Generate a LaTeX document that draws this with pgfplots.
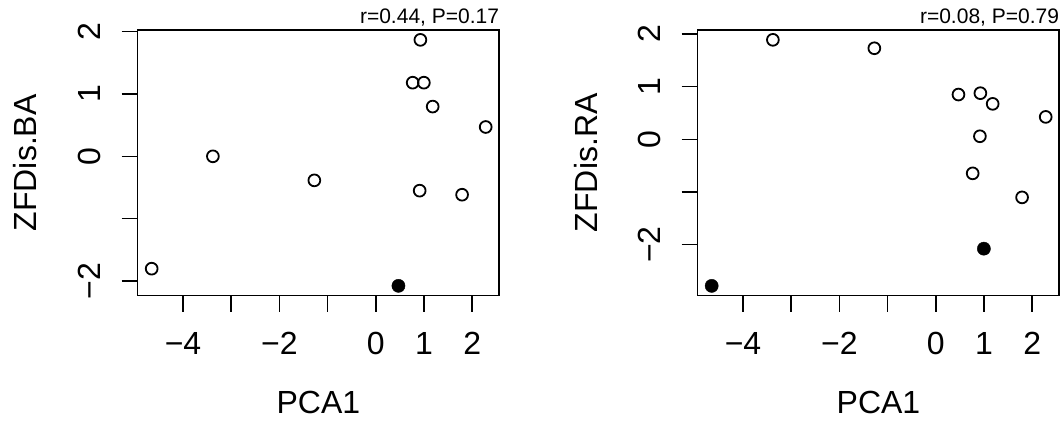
\documentclass[border=0pt]{standalone}
\usepackage{fontspec}
\setmainfont{Liberation Sans}
\usepackage{pgfplots}
\usepackage{pgfplotstable}
\pgfplotsset{compat=1.18}

\pgfplotstableread{
x y
-4.65 -1.80
-3.38 0.00
-1.275 -0.385
0.765 1.18
0.91 -0.55
0.925 1.866
0.997 1.18
1.18 0.797
1.79 -0.615
2.28 0.47
}\leftopen
\pgfplotstableread{
x y
0.47 -2.075
}\leftfilled
\pgfplotstableread{
x y
-3.38 1.89
-1.275 1.73
0.47 0.85
0.765 -0.648
0.915 0.057
0.925 0.876
1.18 0.673
1.79 -1.105
2.28 0.425
}\rightopen
\pgfplotstableread{
x y
-4.65 -2.787
0.997 -2.08
}\rightfilled

\pgfplotsset{
  rstyle/.style={
    scale only axis, width=361.5pt, height=265.7pt,
    xmin=-4.94, xmax=2.56,
    xtick={-4,-3,-2,-1,0,1,2}, xticklabels={−4,,−2,,0,1,2},
    ytick={-2,-1,0,1,2}, yticklabels={−2,,0,1,2},
    xtick pos=left, ytick pos=left,
    tick align=outside, major tick length=16pt,
    axis line style={line width=1.5pt, black},
    major tick style={line width=1.5pt, black},
    tick label style={font=\fontsize{32}{38}\selectfont},
    xticklabel style={anchor=base, yshift=-42.3pt, inner sep=0pt},
    yticklabel style={xshift=-21.5pt, rotate=90, anchor=base, inner sep=0pt},
    every axis x label/.style={at={(axis description cs:0.5,0)}, anchor=base, yshift=-117.5pt, inner sep=0pt, font=\fontsize{32}{38}\selectfont},
    every axis y label/.style={at={(axis description cs:0,0.5)}, xshift=-100.7pt, rotate=90, anchor=base, inner sep=0pt, font=\fontsize{32}{38}\selectfont},
    clip=false,
  },
  openpt/.style={only marks, mark=o, mark size=5.9pt, line width=1.8pt, black},
  filledpt/.style={only marks, mark=*, mark size=6.6pt, black, mark options={fill=black}},
}

\begin{document}
\begin{tikzpicture}[x=1pt,y=1pt]
\useasboundingbox (0,0) rectangle (1061,421);
\begin{axis}[rstyle, at={(137.7pt,125.3pt)}, anchor=south west,
  ymin=-2.233, ymax=2.024, xlabel={PCA1}, ylabel={ZFDis.BA}]
  \addplot[openpt] table[x=x,y=y] {\leftopen};
  \addplot[filledpt] table[x=x,y=y] {\leftfilled};
  \node[anchor=base east, inner sep=0pt, yshift=6.7pt, font=\fontsize{21}{25}\selectfont] at (rel axis cs:1,1) {r=0.44, P=0.17};
\end{axis}
\begin{axis}[rstyle, at={(697.7pt,125.3pt)}, anchor=south west,
  ymin=-2.974, ymax=2.077, xlabel={PCA1}, ylabel={ZFDis.RA}]
  \addplot[openpt] table[x=x,y=y] {\rightopen};
  \addplot[filledpt] table[x=x,y=y] {\rightfilled};
  \node[anchor=base east, inner sep=0pt, yshift=6.7pt, font=\fontsize{21}{25}\selectfont] at (rel axis cs:1,1) {r=0.08, P=0.79};
\end{axis}
\end{tikzpicture}
\end{document}
